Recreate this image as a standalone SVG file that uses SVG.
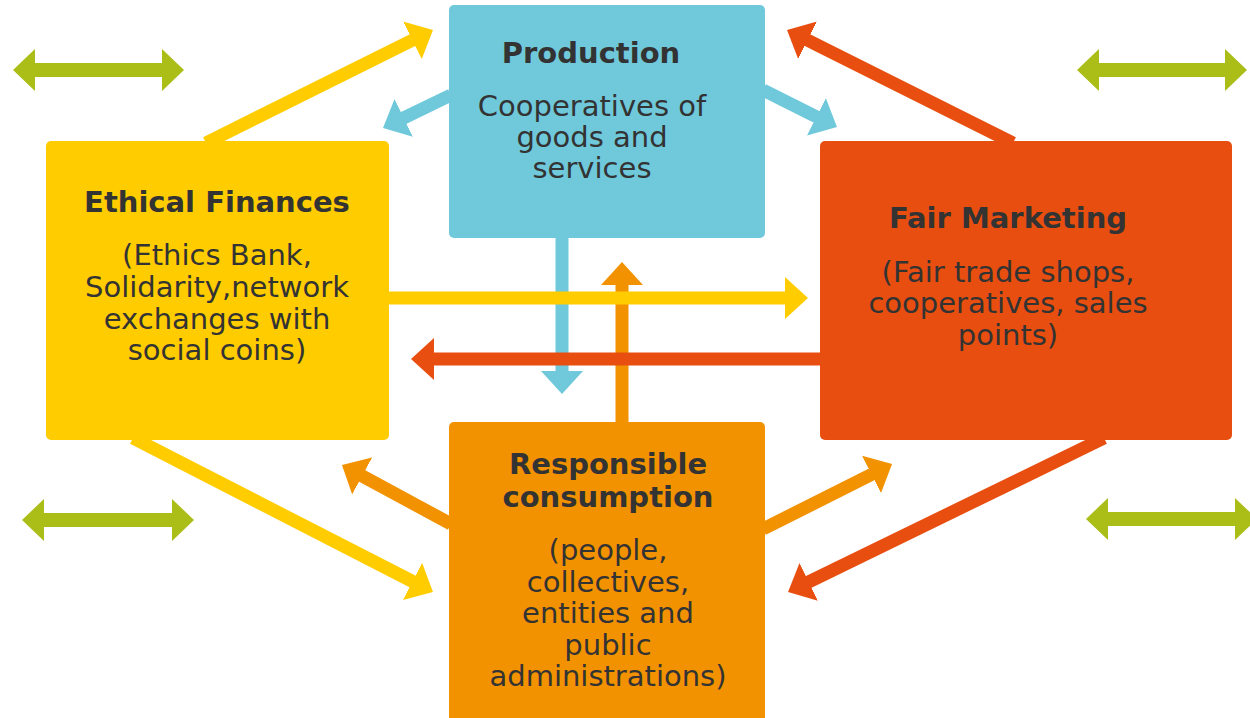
<svg xmlns="http://www.w3.org/2000/svg" width="1250" height="718" viewBox="0 0 1250 718">
<style>
.t{font-family:"DejaVu Sans",Verdana,sans-serif;font-size:29px;fill:#333333;text-anchor:middle}
.b{font-weight:bold}
.sy{stroke:#ffcc00;stroke-width:13;fill:none}
.sb{stroke:#6fc9db;stroke-width:13;fill:none}
.sr{stroke:#e84e0f;stroke-width:13;fill:none}
.so{stroke:#f39200;stroke-width:13;fill:none}
.sg{stroke:#abbd17;stroke-width:14;fill:none}
</style>
<defs>
<marker id="hy" viewBox="0 0 23 42" refX="1" refY="21" markerWidth="23" markerHeight="42" markerUnits="userSpaceOnUse" orient="auto"><path d="M0,0 L23,21 L0,42 Z" fill="#ffcc00"/></marker>
<marker id="hb" viewBox="0 0 23 42" refX="1" refY="21" markerWidth="23" markerHeight="42" markerUnits="userSpaceOnUse" orient="auto"><path d="M0,0 L23,21 L0,42 Z" fill="#6fc9db"/></marker>
<marker id="hr" viewBox="0 0 23 42" refX="1" refY="21" markerWidth="23" markerHeight="42" markerUnits="userSpaceOnUse" orient="auto"><path d="M0,0 L23,21 L0,42 Z" fill="#e84e0f"/></marker>
<marker id="ho" viewBox="0 0 23 42" refX="1" refY="21" markerWidth="23" markerHeight="42" markerUnits="userSpaceOnUse" orient="auto"><path d="M0,0 L23,21 L0,42 Z" fill="#f39200"/></marker>
<marker id="hg" viewBox="0 0 22 42" refX="1" refY="21" markerWidth="22" markerHeight="42" markerUnits="userSpaceOnUse" orient="auto-start-reverse"><path d="M0,0 L22,21 L0,42 Z" fill="#abbd17"/></marker>
</defs>

<g id="connectors">
<line class="sg" x1="34" y1="70" x2="163" y2="70" marker-start="url(#hg)" marker-end="url(#hg)"/>
<line class="sg" x1="1098" y1="70" x2="1226" y2="70" marker-start="url(#hg)" marker-end="url(#hg)"/>
<line class="sg" x1="43" y1="520" x2="173" y2="520" marker-start="url(#hg)" marker-end="url(#hg)"/>
<line class="sg" x1="1107" y1="519" x2="1236" y2="519" marker-start="url(#hg)" marker-end="url(#hg)"/>

<line class="sy" x1="206" y1="143" x2="413.3" y2="39.8" marker-end="url(#hy)"/>
<line class="sb" x1="451" y1="95" x2="402.8" y2="118.4" marker-end="url(#hb)"/>
<line class="sb" x1="763" y1="90" x2="817.3" y2="117.2" marker-end="url(#hb)"/>
<line class="sr" x1="1013" y1="143" x2="806.7" y2="39.8" marker-end="url(#hr)"/>
<line class="sy" x1="133" y1="438" x2="413.4" y2="581.9" marker-end="url(#hy)"/>
<line class="so" x1="451" y1="524" x2="361.3" y2="475.5" marker-end="url(#ho)"/>
<line class="so" x1="763" y1="529" x2="872.4" y2="474" marker-end="url(#ho)"/>
<line class="sr" x1="1104" y1="438" x2="807.8" y2="582.4" marker-end="url(#hr)"/>

<line class="sb" x1="562" y1="236" x2="562" y2="372" marker-end="url(#hb)"/>
<line class="so" x1="622" y1="424" x2="622" y2="284" marker-end="url(#ho)"/>
<line class="sy" x1="387" y1="298" x2="786" y2="298" marker-end="url(#hy)"/>
<line class="sr" x1="822" y1="359" x2="433" y2="359" marker-end="url(#hr)"/>
</g>

<g id="production">
<rect x="449" y="5" width="316" height="233" rx="5" fill="#6fc9db"/>
<text class="t b" x="591" y="63">Production</text>
<text class="t" x="592" y="116">Cooperatives of</text>
<text class="t" x="592" y="147">goods and</text>
<text class="t" x="592" y="178">services</text>
</g>

<g id="ethical-finances">
<rect x="46" y="141" width="343" height="299" rx="5" fill="#ffcc00"/>
<text class="t b" x="217" y="212">Ethical Finances</text>
<text class="t" x="217" y="265">(Ethics Bank,</text>
<text class="t" x="217" y="297">Solidarity,network</text>
<text class="t" x="217" y="329">exchanges with</text>
<text class="t" x="217" y="360">social coins)</text>
</g>

<g id="fair-marketing">
<rect x="820" y="141" width="412" height="299" rx="5" fill="#e84e0f"/>
<text class="t b" x="1008" y="228">Fair Marketing</text>
<text class="t" x="1008" y="282">(Fair trade shops,</text>
<text class="t" x="1008" y="313">cooperatives, sales</text>
<text class="t" x="1008" y="345">points)</text>
</g>

<g id="responsible-consumption">
<rect x="449" y="422" width="316" height="306" rx="5" fill="#f39200"/>
<text class="t b" x="608" y="474">Responsible</text>
<text class="t b" x="608" y="507">consumption</text>
<text class="t" x="608" y="560">(people,</text>
<text class="t" x="608" y="592">collectives,</text>
<text class="t" x="608" y="623">entities and</text>
<text class="t" x="608" y="655">public</text>
<text class="t" x="608" y="686">administrations)</text>
</g>
</svg>
